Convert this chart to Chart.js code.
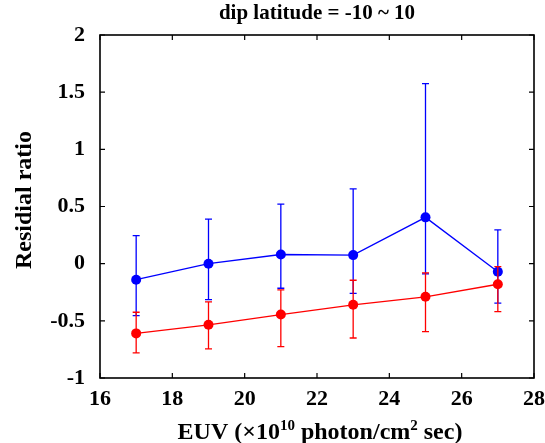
<!DOCTYPE html>
<html><head><meta charset="utf-8">
<script src="https://cdn.jsdelivr.net/npm/chart.js@4/dist/chart.umd.min.js"></script>
<style>html,body{margin:0;padding:0;background:#fff}canvas{display:block}</style>
</head><body>
<canvas id="c" width="545" height="443"></canvas>
<script>
const euv = [17, 19, 21, 23, 25, 27];
const blueMean  = [-0.14, 0.00, 0.08, 0.075, 0.405, -0.07];
const blueUpper = [0.245, 0.39, 0.52, 0.655, 1.575, 0.295];
const blueLower = [-0.455, -0.315, -0.215, -0.26, -0.09, -0.345];
const redMean  = [-0.61, -0.535, -0.445, -0.36, -0.29, -0.18];
const redUpper = [-0.425, -0.335, -0.23, -0.145, -0.08, -0.025];
const redLower = [-0.78, -0.745, -0.725, -0.65, -0.595, -0.42];
const xTicks = [16, 18, 20, 22, 24, 26, 28];
const yTicks = [-1, -0.5, 0, 0.5, 1, 1.5, 2];
const titleText = 'dip latitude = -10 ~ 10';
const yTitle = 'Residial ratio';

const FONT = '"Liberation Serif", "Times New Roman", serif';

function pts(xs, ys) { return xs.map((x, i) => ({x: x, y: ys[i]})); }

const errPlugin = {
  id: 'errbars',
  afterDatasetDraw(chart, args) {
    const ds = chart.data.datasets[args.index];
    const ctx = chart.ctx, xs = chart.scales.x, ys = chart.scales.y;
    ctx.save();
    ctx.strokeStyle = ds.borderColor;
    ctx.lineWidth = 1.3;
    ds.upper.forEach((u, i) => {
      const px = xs.getPixelForValue(ds.data[i].x);
      const pu = ys.getPixelForValue(u), pl = ys.getPixelForValue(ds.lower[i]);
      ctx.beginPath();
      ctx.moveTo(px, pu); ctx.lineTo(px, pl);
      ctx.moveTo(px - 3.5, pu); ctx.lineTo(px + 3.5, pu);
      ctx.moveTo(px - 3.5, pl); ctx.lineTo(px + 3.5, pl);
      ctx.stroke();
    });
    ctx.restore();
  }
};

const framePlugin = {
  id: 'frame',
  afterDraw(chart) {
    const ctx = chart.ctx, a = chart.chartArea, xs = chart.scales.x, ys = chart.scales.y;
    ctx.save();
    ctx.strokeStyle = '#000';
    ctx.lineWidth = 1.6;
    ctx.strokeRect(a.left, a.top, a.right - a.left, a.bottom - a.top);
    ctx.lineWidth = 1.2;
    ctx.beginPath();
    const L = 5;
    xTicks.forEach(v => {
      const p = xs.getPixelForValue(v);
      ctx.moveTo(p, a.bottom); ctx.lineTo(p, a.bottom - L);
      ctx.moveTo(p, a.top); ctx.lineTo(p, a.top + L);
    });
    yTicks.forEach(v => {
      const p = ys.getPixelForValue(v);
      ctx.moveTo(a.left, p); ctx.lineTo(a.left + L, p);
      ctx.moveTo(a.right, p); ctx.lineTo(a.right - L, p);
    });
    ctx.stroke();

    ctx.fillStyle = '#000';
    // title
    ctx.font = 'bold 21px ' + FONT;
    ctx.textAlign = 'center';
    ctx.textBaseline = 'alphabetic';
    ctx.fillText(titleText, (a.left + a.right) / 2, 19);

    // y title
    ctx.save();
    ctx.translate(31, 200);
    ctx.rotate(-Math.PI / 2);
    ctx.font = 'bold 24px ' + FONT;
    ctx.fillText(yTitle, 0, 0);
    ctx.restore();

    // x title with superscripts
    const parts = [
      ['EUV (\u00d710', false], ['10', true], [' photon/cm', false], ['2', true], [' sec)', false]
    ];
    const big = 'bold 24px ' + FONT, small = 'bold 15px ' + FONT;
    let total = 0;
    parts.forEach(p => { ctx.font = p[1] ? small : big; total += ctx.measureText(p[0]).width; });
    let x = 320 - total / 2;
    const base = 439;
    ctx.textAlign = 'left';
    parts.forEach(p => {
      ctx.font = p[1] ? small : big;
      ctx.fillText(p[0], x, p[1] ? base - 9 : base);
      x += ctx.measureText(p[0]).width;
    });
    ctx.restore();
  }
};

new Chart(document.getElementById('c'), {
  type: 'line',
  data: {
    datasets: [
      { data: pts(euv, blueMean), upper: blueUpper, lower: blueLower,
        borderColor: '#0000ff', backgroundColor: '#0000ff', borderWidth: 1.3,
        pointRadius: 5, pointBorderWidth: 0, order: 2 },
      { data: pts(euv, redMean), upper: redUpper, lower: redLower,
        borderColor: '#ff0000', backgroundColor: '#ff0000', borderWidth: 1.3,
        pointRadius: 5, pointBorderWidth: 0, order: 1 }
    ]
  },
  options: {
    responsive: false,
    animation: false,
    layout: { padding: { top: 35, right: 11, left: 0, bottom: 0 } },
    plugins: { legend: { display: false }, title: { display: false }, tooltip: { enabled: false } },
    scales: {
      x: {
        type: 'linear', min: 16, max: 28,
        afterBuildTicks: s => { s.ticks = xTicks.map(v => ({value: v})); },
        afterFit: s => { s.height = 65; s.paddingLeft = 0; s.paddingRight = 0; },
        grid: { display: false, drawTicks: false },
        border: { display: false },
        ticks: { color: '#000', padding: 8, font: { family: FONT, size: 22, weight: 'bold' },
                 callback: v => String(v), maxRotation: 0 }
      },
      y: {
        type: 'linear', min: -1, max: 2,
        afterBuildTicks: s => { s.ticks = yTicks.map(v => ({value: v})); },
        afterFit: s => { s.width = 100; s.paddingTop = 0; s.paddingBottom = 0; },
        grid: { display: false, drawTicks: false },
        border: { display: false },
        ticks: { color: '#000', padding: 15, font: { family: FONT, size: 22, weight: 'bold' },
                 callback: v => String(v) }
      }
    }
  },
  plugins: [errPlugin, framePlugin]
});
</script>
</body></html>
